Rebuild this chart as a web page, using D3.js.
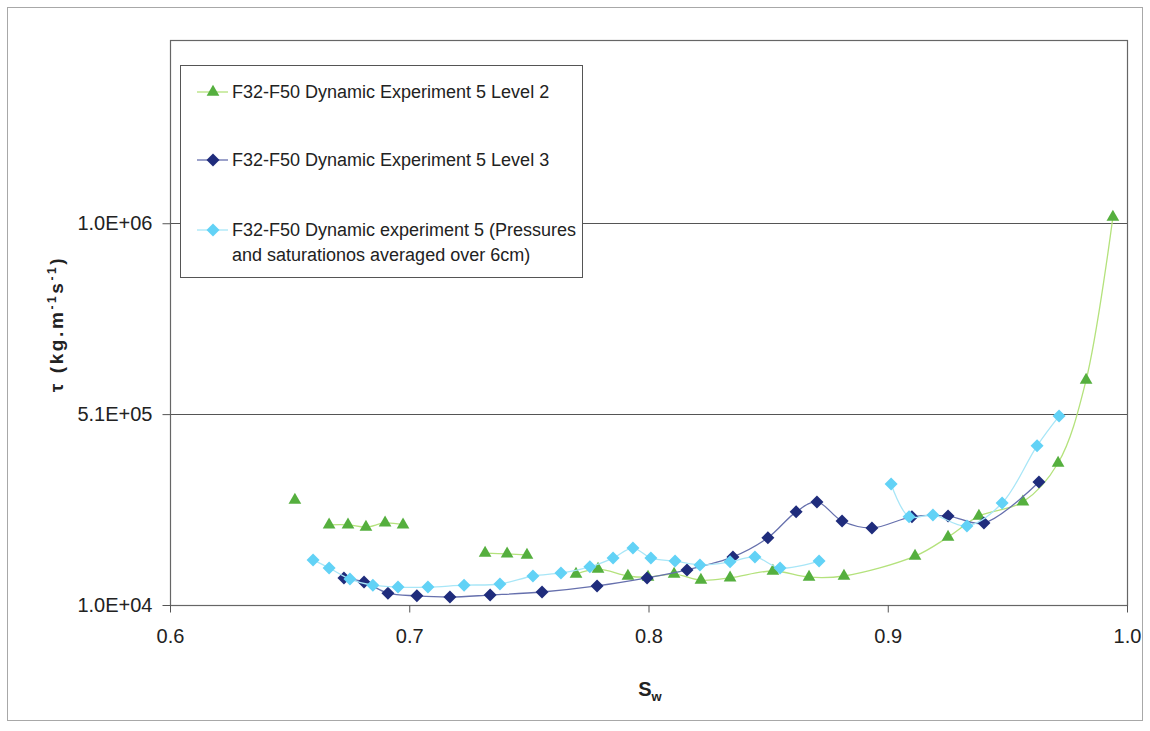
<!DOCTYPE html>
<html>
<head>
<meta charset="utf-8">
<script src="https://cdn.jsdelivr.net/npm/d3@7/dist/d3.min.js"></script>
<style>
  html, body { margin: 0; padding: 0; background: #fff; }
  svg { display: block; }
  text { font-family: "Liberation Sans", Arial, sans-serif; fill: #222; }
</style>
</head>
<body>
<svg id="chart" width="1150" height="731"></svg>
<script>
// Saturation (Sw) and dynamic coefficient tau (kg m^-1 s^-1); null marks a break in the line
const level2Sw  = [0.6522, null, 0.6665, 0.6744, 0.6819, 0.6899, 0.6974, null,
                   0.7317, 0.7409, 0.7492, null,
                   0.7697, 0.7789, 0.7914, 0.7998, 0.8107, 0.8219, 0.8341, 0.8520, 0.8671, 0.8817,
                   0.9114, 0.9252, 0.9381, 0.9565, 0.9712, 0.9829, 0.9941];
const level2Tau = [285000, null, 220000, 220000, 214000, 225000, 220000, null,
                   146000, 144000, 141000, null,
                   91000, 104000, 86000, 83000, 91000, 75000, 81000, 99000, 83000, 86000,
                   138000, 188000, 243000, 280000, 382000, 599000, 1026000];

const level3Sw  = [0.6727, 0.6811, 0.6911, 0.7032, 0.7170, 0.7338, 0.7555, 0.7785, 0.7994, 0.8161,
                   0.8353, 0.8499, 0.8617, 0.8704, 0.8809, 0.8934, 0.9101, 0.9252, 0.9402, 0.9632];
const level3Tau = [81000, 70000, 41000, 34000, 31000, 36000, 44000, 60000, 81000, 102000,
                   136000, 186000, 254000, 280000, 230000, 212000, 241000, 243000, 225000, 332000];

const averagedSw  = [0.6598, 0.6665, 0.6752, 0.6848, 0.6953, 0.7078, 0.7229, 0.7379, 0.7517, 0.7634,
                     0.7755, 0.7852, 0.7935, 0.8010, 0.8111, 0.8215, 0.8341, 0.8445, 0.8550, 0.8713, null,
                     0.9014, 0.9089, 0.9189, 0.9331, 0.9478, 0.9624, 0.9716];
const averagedTau = [128000, 107000, 78000, 62000, 57000, 57000, 62000, 65000, 86000, 94000,
                     110000, 133000, 159000, 133000, 125000, 115000, 123000, 136000, 107000, 125000, null,
                     327000, 241000, 246000, 217000, 277000, 427000, 505000];

const seriesNames = [
  ["F32-F50 Dynamic Experiment 5 Level 2"],
  ["F32-F50 Dynamic Experiment 5 Level 3"],
  ["F32-F50 Dynamic experiment 5 (Pressures", "and saturationos averaged over 6cm)"]
];

const swTicks = [0.6, 0.7, 0.8, 0.9, 1.0];
const swTickLabels = ["0.6", "0.7", "0.8", "0.9", "1.0"];
const tauTicks = [10000, 510000, 1010000];
const tauTickLabels = ["1.0E+04", "5.1E+05", "1.0E+06"];

const svg = d3.select("#chart");
const plot = { left: 170, right: 1127, top: 40, bottom: 605 };

const x = d3.scaleLinear().domain([0.6, 1.0]).range([plot.left, plot.right]);
const y = d3.scaleLinear().domain([10000, 1490000]).range([plot.bottom, plot.top]);

// outer chart frame
svg.append("rect").attr("x", 7.5).attr("y", 7.5).attr("width", 1135).attr("height", 713)
  .attr("fill", "#fff").attr("stroke", "#a8a8a8").attr("stroke-width", 1);

// gridlines
svg.append("g").selectAll("line").data(tauTicks.slice(1)).join("line")
  .attr("x1", plot.left).attr("x2", plot.right)
  .attr("y1", d => Math.round(y(d)) + 0.5).attr("y2", d => Math.round(y(d)) + 0.5)
  .attr("stroke", "#555").attr("stroke-width", 1);

// plot frame
svg.append("rect").attr("x", plot.left + 0.5).attr("y", plot.top + 0.5)
  .attr("width", plot.right - plot.left).attr("height", plot.bottom - plot.top)
  .attr("fill", "none").attr("stroke", "#666").attr("stroke-width", 1.2);

// axes
const yAxis = svg.append("g").attr("transform", `translate(${plot.left + 0.5},0)`)
  .call(d3.axisLeft(y).tickValues(tauTicks).tickFormat((d, i) => tauTickLabels[i]).tickSize(8).tickPadding(10));
yAxis.select(".domain").remove();
yAxis.selectAll("line").attr("stroke", "#555");
yAxis.selectAll("text").attr("font-size", 20).attr("fill", "#222")
  .style("font-family", '"Liberation Sans", Arial, sans-serif');

const xAxis = svg.append("g").attr("transform", `translate(0,${plot.bottom + 0.5})`)
  .call(d3.axisBottom(x).tickValues(swTicks).tickFormat((d, i) => swTickLabels[i]).tickSize(7).tickPadding(16));
xAxis.select(".domain").remove();
xAxis.selectAll("line").attr("stroke", "#555");
xAxis.selectAll("text").attr("font-size", 20).attr("fill", "#222")
  .style("font-family", '"Liberation Sans", Arial, sans-serif');

// axis titles
const xt = svg.append("text").attr("x", 650).attr("y", 696).attr("text-anchor", "middle")
  .attr("font-size", 20).attr("font-weight", "bold");
xt.append("tspan").text("S");
xt.append("tspan").attr("font-size", 13).attr("dy", 5).text("w");

const yt = svg.append("text").attr("transform", "translate(63,324) rotate(-90)")
  .attr("text-anchor", "middle").attr("font-size", 19).attr("font-weight", "bold")
  .style("letter-spacing", "2.6px");
yt.append("tspan").text("τ   (kg.m");
yt.append("tspan").attr("font-size", 12).attr("dy", -7).text("-1");
yt.append("tspan").attr("dy", 7).text("s");
yt.append("tspan").attr("font-size", 12).attr("dy", -7).text("-1");
yt.append("tspan").attr("dy", 7).text(")");

// series
const series = [
  { sw: level2Sw, tau: level2Tau, line: "#b4e27c", fill: "#55af3e", symbol: "triangle" },
  { sw: level3Sw, tau: level3Tau, line: "#6670ad", fill: "#1f2c7c", symbol: "diamond" },
  { sw: averagedSw, tau: averagedTau, line: "#a8e6f7", fill: "#62d2f6", symbol: "diamond" }
];

const triPath = d3.symbol(d3.symbolTriangle, 70)();
const diaPath = "M0,-6.5L6.5,0L0,6.5L-6.5,0Z";
const markerPath = s => s === "triangle" ? triPath : diaPath;

const lineGen = d3.line()
  .defined(d => d.sw != null && d.tau != null)
  .x(d => x(d.sw)).y(d => y(d.tau))
  .curve(d3.curveCatmullRom.alpha(0.5));

series.forEach(s => {
  const pts = s.sw.map((v, i) => ({ sw: v, tau: s.tau[i] }));
  const g = svg.append("g");
  g.append("path").datum(pts).attr("d", lineGen)
    .attr("fill", "none").attr("stroke", s.line).attr("stroke-width", 1.3);
  g.selectAll("path.m").data(pts.filter(d => d.sw != null)).join("path").attr("class", "m")
    .attr("d", markerPath(s.symbol))
    .attr("transform", d => `translate(${x(d.sw)},${y(d.tau)})`)
    .attr("fill", s.fill);
});

// legend
const legend = svg.append("g");
legend.append("rect").attr("x", 180.5).attr("y", 65.5).attr("width", 402).attr("height", 212)
  .attr("fill", "#fff").attr("stroke", "#555").attr("stroke-width", 1);
const rowY = [92, 160, 230];
series.forEach((s, i) => {
  const ly = rowY[i];
  legend.append("line").attr("x1", 197).attr("x2", 228).attr("y1", ly).attr("y2", ly)
    .attr("stroke", s.line).attr("stroke-width", 1.3);
  legend.append("path").attr("d", markerPath(s.symbol))
    .attr("transform", `translate(213,${ly})`).attr("fill", s.fill);
  seriesNames[i].forEach((t, j) => {
    legend.append("text").attr("x", 232).attr("y", ly + 6 + j * 25)
      .attr("font-size", 18).text(t);
  });
});
</script>
</body>
</html>
